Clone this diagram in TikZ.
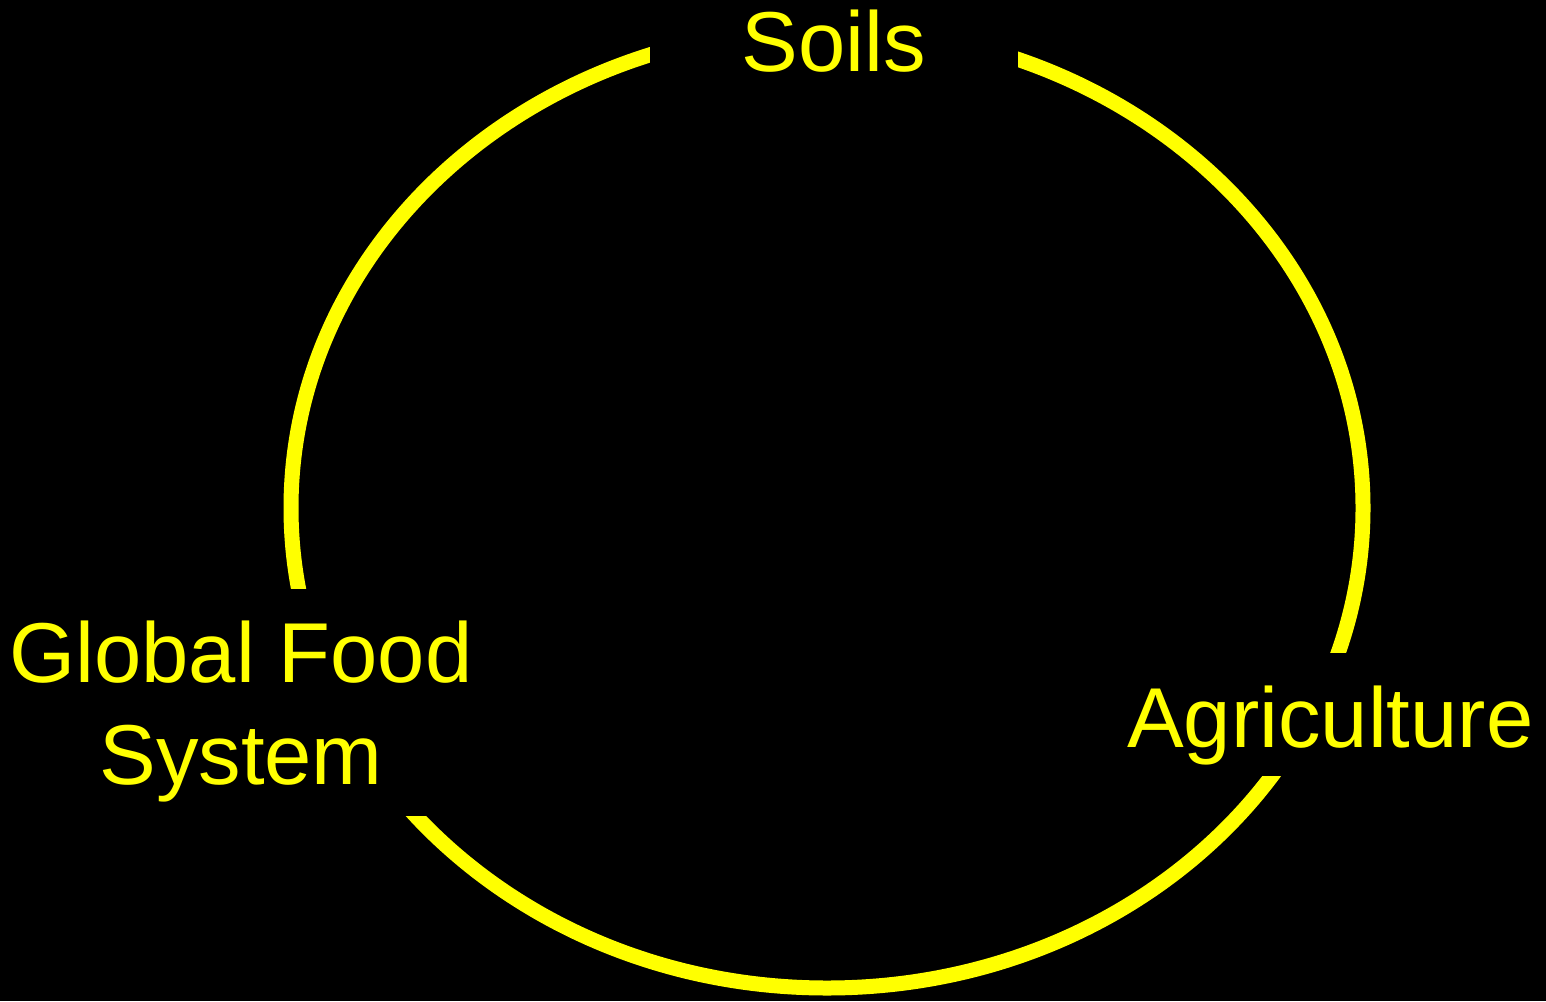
\documentclass[tikz,border=0pt]{standalone}
\usepackage{fontspec}
\setmainfont{Liberation Sans}
\definecolor{ylw}{RGB}{255,255,0}
\begin{document}
\begin{tikzpicture}[x=1pt,y=-1pt,
  lbl/.style={text=ylw,inner sep=0pt,font=\fontsize{85}{102}\selectfont},
  mask/.style={fill=black,draw=none},
  ring/.style={draw=ylw,line width=15pt}]
\fill[black] (0,0) rectangle (1546,1001);
\useasboundingbox (0,0) rectangle (1546,1001);
\coordinate (c) at (827,508);
\draw[ring] (c) ellipse [x radius=536, y radius=480];
% gaps in the ring where labels sit
\fill[mask] (650,0) rectangle (1018,120);
\fill[mask] (0,589) rectangle (500,816);
\fill[mask] (1100,653) rectangle (1546,776);
\node[lbl,anchor=base] (soils) at (834,71) {Soils};
\node[lbl,anchor=base,align=center] (gfs) at (241,784) {Global Food\\System};
\node[lbl,anchor=base west] (agri) at (1127,747) {Agriculture};
\end{tikzpicture}
\end{document}
